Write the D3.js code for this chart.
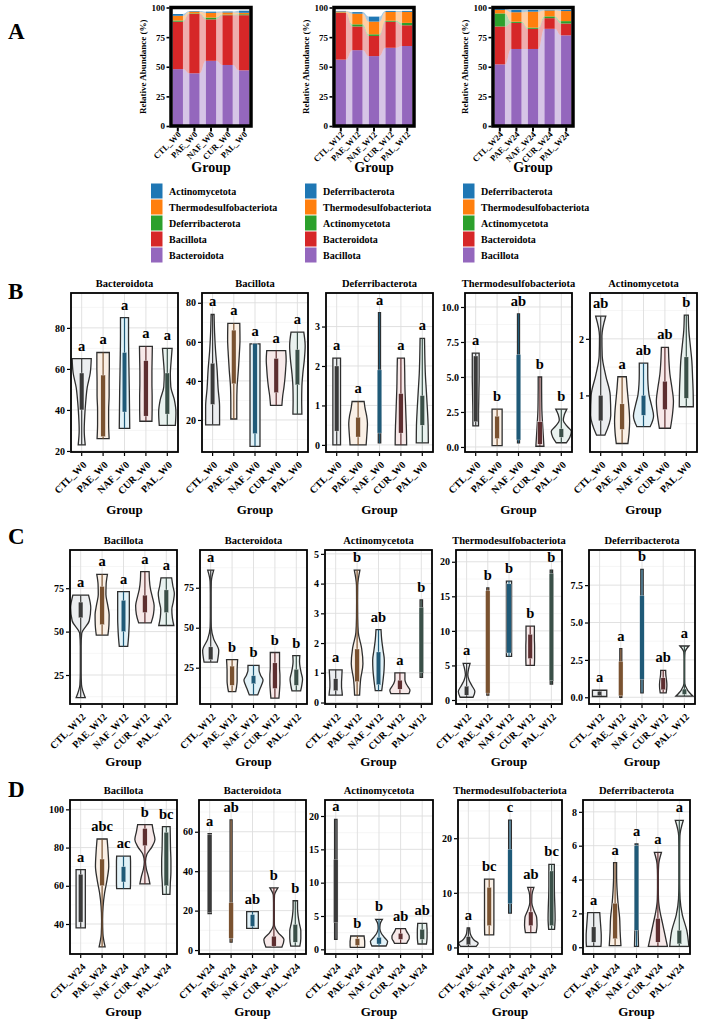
<!DOCTYPE html>
<html>
<head>
<meta charset="utf-8">
<script src="https://cdn.jsdelivr.net/npm/d3@7"></script>
<style>
body{margin:0;background:#fff}
text{font-family:"Liberation Serif","Times New Roman",serif;font-weight:bold;fill:#000}
</style>
</head>
<body>
<svg id="fig" width="703" height="1023"></svg>
<script>
// ---- panel A : stacked relative abundance ----
var groupsW0 = ["CTL_W0","PAE_W0","NAF_W0","CUR_W0","PAL_W0"];
var groupsW12 = ["CTL_W12","PAE_W12","NAF_W12","CUR_W12","PAL_W12"];
var groupsW24 = ["CTL_W24","PAE_W24","NAF_W24","CUR_W24","PAL_W24"];
// stack order bottom -> top
var phylaW0 = ["Bacteroidota","Bacillota","Deferribacterota","Thermodesulfobacteriota","Actinomycetota"];
var phylaW12 = ["Bacillota","Bacteroidota","Actinomycetota","Thermodesulfobacteriota","Deferribacterota"];
var phylaW24 = ["Bacillota","Bacteroidota","Actinomycetota","Thermodesulfobacteriota","Deferribacterota"];
var abundW0 = [[48,40,1,4,1.5],[44.5,50,0.5,1.5,0.5],[55,35,1.5,4,1],[51.5,42,0.5,1.8,0.8],[47,46.5,0.8,1.2,1.8]];
var abundW12 = [[56,39.5,0.3,0.8,0.5],[64,20,1.8,9,1.3],[59,17,1.4,10.7,4.2],[66,22,0.8,7.5,0.8],[67.5,17.5,2,9.3,0.8]];
var abundW24 = [[52,32,11,3,1],[65,22,1,8,2],[65,17,1,13.5,1.5],[82,9,1.5,5,0.5],[76.5,10,2,8.5,1]];
var abundTicks = [0,25,50,75,100];
var stackColors = ["#9467bd","#d62728","#2ca02c","#ff7f0e","#1f77b4"];

// ---- violins: [min, q1, q3, max, letter, widths from min to max] ----
var bTitles = ["Bacteroidota","Bacillota","Deferribacterota","Thermodesulfobacteriota","Actinomycetota"];
var bBacteroidota = [
 [23,40,58,65,"a",[0.35,0.25,0.3,0.4,0.55,0.85,0.95]],
 [26,27,57,68,"a",[0.6,0.55,0.55,0.6,0.6,0.62,0.62]],
 [31,39,68,85,"a",[0.52,0.5,0.48,0.45,0.42,0.4,0.4]],
 [34.5,37,64,71,"a",[0.6,0.62,0.62,0.6,0.6,0.62,0.64]],
 [32.5,38,58,70,"a",[0.8,0.86,0.7,0.35,0.3,0.38,0.48]]];
var bBacillota = [
 [17.5,28,49,74,"a",[0.7,0.7,0.55,0.45,0.3,0.2,0.15]],
 [20.5,38.5,66,69.5,"a",[0.3,0.3,0.33,0.45,0.55,0.62,0.6]],
 [6.5,13,59,59,"a",[0.5,0.5,0.5,0.5,0.5,0.5,0.5]],
 [27.5,34,51.5,55.5,"a",[0.57,0.65,0.78,0.88,0.95,1.0,0.95]],
 [23,38,56,65,"a",[0.45,0.43,0.45,0.55,0.7,0.78,0.64]]];
var bDeferribacterota = [
 [0,0.35,2.0,2.2,"a",[0.38,0.38,0.38,0.38,0.38,0.38,0.38]],
 [0,0.2,0.7,1.1,"a",[0.8,0.85,0.9,0.93,0.85,0.7,0.6]],
 [0.05,0.3,1.9,3.35,"a",[0.12,0.12,0.1,0.1,0.1,0.1,0.1]],
 [0,0.3,1.3,2.2,"a",[0.57,0.55,0.5,0.45,0.4,0.38,0.35]],
 [0.05,0.5,1.25,2.7,"a",[0.6,0.58,0.5,0.4,0.3,0.25,0.22]]];
var bThermo = [
 [1.5,1.8,6.5,6.7,"a",[0.28,0.28,0.3,0.32,0.34,0.34,0.34]],
 [0.1,0.6,2.2,2.7,"b",[0.5,0.5,0.5,0.5,0.5,0.5,0.5]],
 [0.3,0.5,6.6,9.5,"ab",[0.1,0.1,0.1,0.1,0.1,0.1,0.1]],
 [0.05,0.2,1.8,5.0,"b",[0.4,0.33,0.26,0.2,0.18,0.17,0.17]],
 [0.3,0.7,1.3,2.7,"b",[0.5,0.85,1.0,0.55,0.2,0.3,0.55]]];
var bActino = [
 [0.3,0.55,1.0,2.4,"ab",[0.42,1.0,0.95,0.5,0.15,0.12,0.5]],
 [0.15,0.4,0.85,1.33,"a",[0.58,0.7,0.75,0.7,0.6,0.5,0.42]],
 [0.45,0.65,1.0,1.57,"ab",[0.67,1.0,0.8,0.55,0.45,0.42,0.42]],
 [0.42,0.75,1.25,1.85,"ab",[0.55,0.75,0.85,0.7,0.5,0.4,0.35]],
 [0.8,0.95,1.68,2.42,"b",[0.7,0.68,0.62,0.55,0.4,0.25,0.2]]];
var bTicks = [[20,40,60,80],[20,40,60,80],[0,1,2,3],[0,2.5,5,7.5,10],[1,2]];
var bDomains = [[19.5,97],[3.6,85],[-0.18,3.85],[-0.36,11],[0,2.81]];

var cTitles = ["Bacillota","Bacteroidota","Actinomycetota","Thermodesulfobacteriota","Deferribacterota"];
var cBacillota = [
 [12,58,67,71,"a",[0.45,0.08,0.04,0.04,0.04,0.1,0.85,1.0,0.78]],
 [48,54,76,83,"a",[0.58,0.68,0.7,0.55,0.38,0.4,0.53]],
 [41.5,50,68,73,"a",[0.42,0.5,0.55,0.58,0.58,0.58,0.58]],
 [55,61,71,84.5,"a",[0.62,0.85,0.92,0.75,0.55,0.45,0.42]],
 [53.5,61,74,81,"a",[0.75,0.6,0.55,0.7,0.8,0.65,0.53]]];
var cBacteroidota = [
 [28.5,30,38,86,"a",[0.66,0.8,0.3,0.06,0.04,0.04,0.04,0.06,0.3]],
 [10,14,26,30,"b",[0.36,0.45,0.5,0.5,0.5,0.52,0.55]],
 [8,15,20,26.5,"b",[0.42,0.6,0.8,0.95,0.7,0.55,0.55]],
 [6,12,28,34.5,"b",[0.4,0.46,0.5,0.5,0.46,0.46,0.46]],
 [10.5,14,24,32.5,"b",[0.43,0.55,0.62,0.5,0.38,0.32,0.35]]];
var cActino = [
 [0.25,0.4,0.8,1.1,"a",[0.66,0.62,0.58,0.58,0.6,0.62,0.64]],
 [0.25,0.7,1.8,4.45,"b",[0.25,0.35,0.58,0.45,0.12,0.06,0.05,0.06,0.28]],
 [0.4,0.6,1.7,2.45,"ab",[0.32,0.45,0.55,0.58,0.45,0.32,0.25]],
 [0.3,0.45,0.75,1.0,"a",[0.9,1.0,0.8,0.6,0.5,0.5,0.5]],
 [0.85,1.0,3.2,3.45,"b",[0.12,0.12,0.12,0.12,0.12,0.12,0.12]]];
var cThermo = [
 [0.4,0.7,2.0,5.3,"a",[0.65,0.83,0.55,0.25,0.12,0.2,0.35]],
 [0.7,1.0,15.8,16.2,"b",[0.1,0.1,0.1,0.1,0.1,0.1,0.1]],
 [6.3,6.8,16.8,17.2,"b",[0.26,0.26,0.26,0.26,0.26,0.26,0.26]],
 [5,6,9.5,10.7,"b",[0.42,0.44,0.44,0.44,0.42,0.42,0.42]],
 [2.3,2.8,18.3,18.8,"b",[0.12,0.12,0.12,0.12,0.12,0.12,0.12]]];
var cDeferri = [
 [0.05,0.1,0.4,0.47,"a",[0.72,0.72,0.72,0.72,0.72,0.72,0.72]],
 [0,0.1,2.4,3.25,"a",[0.1,0.1,0.1,0.1,0.1,0.1,0.1]],
 [0.3,1.2,6.8,8.55,"b",[0.12,0.12,0.12,0.12,0.12,0.12,0.12]],
 [0.3,0.5,1.3,1.8,"ab",[0.3,0.35,0.37,0.35,0.3,0.26,0.25]],
 [0.08,0.2,0.55,3.43,"a",[0.85,0.3,0.04,0.03,0.03,0.03,0.03,0.06,0.45]]];
var cTicks = [[25,50,75],[25,50,75],[0,1,2,3,4,5],[0,5,10,15,20],[0,2.5,5,7.5]];
var cDomains = [[8.3,97],[2.3,98.6],[-0.05,5.13],[-0.58,21.7],[-0.45,9.85]];

var dTitles = ["Bacillota","Bacteroidota","Actinomycetota","Thermodesulfobacteriota","Deferribacterota"];
var dBacillota = [
 [38,41,66,68.5,"a",[0.46,0.46,0.46,0.46,0.46,0.46,0.46]],
 [28,60,74,84.5,"abc",[0.3,0.08,0.05,0.1,0.25,0.5,0.66,0.6,0.5]],
 [58.5,62,70,75.5,"ac",[0.68,0.7,0.7,0.7,0.7,0.7,0.68]],
 [61,81,90,92,"b",[0.5,0.35,0.15,0.06,0.2,0.7,1.0,0.85,0.72]],
 [55.5,60,88,91,"bc",[0.36,0.4,0.46,0.46,0.42,0.4,0.38]]];
var dBacteroidota = [
 [18.5,19,58.5,59,"a",[0.16,0.16,0.16,0.16,0.16,0.16,0.16]],
 [4,6,24,66,"ab",[0.1,0.1,0.1,0.1,0.1,0.1,0.1]],
 [11,12,18,19.5,"ab",[0.58,0.58,0.58,0.58,0.58,0.58,0.58]],
 [1.5,2,7,31.5,"b",[0.8,1.0,0.4,0.05,0.04,0.04,0.04,0.06,0.4]],
 [2,4,13,25,"b",[0.45,0.55,0.55,0.4,0.28,0.22,0.22]]];
var dActino = [
 [1.5,4,13.5,19.5,"a",[0.12,0.12,0.12,0.12,0.12,0.12,0.12]],
 [0.3,0.6,1.6,2.0,"b",[0.7,0.72,0.72,0.72,0.7,0.68,0.66]],
 [0.5,0.8,1.8,4.5,"b",[0.7,0.85,0.5,0.2,0.08,0.12,0.33]],
 [0.9,1.5,2.4,3.1,"ab",[0.6,0.72,0.85,0.85,0.72,0.58,0.48]],
 [0.8,1.5,3.0,3.9,"ab",[0.42,0.46,0.48,0.48,0.48,0.46,0.44]]];
var dThermo = [
 [0.2,0.5,2.0,3.6,"a",[0.8,1.0,0.6,0.35,0.2,0.15,0.12]],
 [2.3,4,11,12.5,"bc",[0.46,0.48,0.48,0.48,0.48,0.48,0.48]],
 [6.3,8,18,23.3,"c",[0.14,0.14,0.14,0.14,0.14,0.14,0.14]],
 [2.7,4,6.5,11,"ab",[0.55,0.64,0.6,0.3,0.1,0.12,0.32]],
 [3.3,4,14,15.2,"bc",[0.3,0.36,0.34,0.3,0.28,0.28,0.28]]];
var dDeferri = [
 [0.05,0.3,1.2,2.05,"a",[0.72,0.75,0.75,0.72,0.68,0.64,0.6]],
 [0.1,0.5,2.6,5.0,"a",[0.58,0.5,0.45,0.3,0.2,0.15,0.15]],
 [0.05,1.0,6.0,6.1,"a",[0.2,0.16,0.14,0.14,0.14,0.14,0.14]],
 [0.05,0.3,1.7,5.6,"a",[0.95,0.7,0.45,0.2,0.06,0.04,0.04,0.08,0.35]],
 [0.05,0.2,1.0,7.5,"a",[0.95,0.75,0.3,0.08,0.04,0.04,0.04,0.06,0.4]]];
var dTicks = [[40,60,80,100],[0,20,40,60],[0,5,10,15,20],[0,10,20],[0,2,4,6,8]];
var dDomains = [[24.3,104.9],[-2,76.1],[-0.7,22.4],[-1.2,27],[-0.4,8.7]];

var violinFill = ["#eceef0","#faf0e6","#e2f2f8","#f7e9e9","#e9f2ef"];
var boxFill = ["#3a3a3a","#7a5230","#1f5a78","#5e2e30","#3a5048"];

var svg = d3.select("#fig");

// ---------- panel A ----------
function drawStack(groups, phyla, abund, l, r, legendX){
	var top = 7.5, bottom = 126;
	var table = groups.map(function(gn,i){
		var o = {group: gn};
		phyla.forEach(function(p,k){ o[p] = abund[i][k]; });
		return o;
	});
	var series = d3.stack().keys(phyla)(table);
	var x = d3.scaleBand().domain(groups).range([l,r]).paddingInner(0.38).paddingOuter(0.1);
	var y = d3.scaleLinear().domain([0,100]).range([bottom,top]);
	var g = svg.append("g");

	// flows between bars
	series.forEach(function(s,k){
		for (var i=0;i<groups.length-1;i++){
			var a = s[i], b = s[i+1];
			var xa = x(groups[i]) + x.bandwidth(), xb = x(groups[i+1]), xm = (xa+xb)/2;
			var d = "M"+xa+","+y(a[1])+"C"+xm+","+y(a[1])+" "+xm+","+y(b[1])+" "+xb+","+y(b[1])
				+"L"+xb+","+y(b[0])+"C"+xm+","+y(b[0])+" "+xm+","+y(a[0])+" "+xa+","+y(a[0])+"Z";
			g.append("path").attr("d",d).attr("fill",stackColors[k]).attr("fill-opacity",0.38);
		}
	});
	// bars
	series.forEach(function(s,k){
		g.selectAll(null).data(s).enter().append("rect")
			.attr("x",function(d){ return x(d.data.group); })
			.attr("width",x.bandwidth())
			.attr("y",function(d){ return y(d[1]); })
			.attr("height",function(d){ return y(d[0]) - y(d[1]); })
			.attr("fill",stackColors[k]);
	});
	g.append("rect").attr("x",l).attr("y",top).attr("width",r-l).attr("height",bottom-top)
		.attr("fill","none").attr("stroke","#000").attr("stroke-width",3.5);

	var ya = g.append("g").attr("transform","translate("+(l-1.5)+",0)")
		.call(d3.axisLeft(y).tickValues(abundTicks).tickSize(3).tickPadding(1.5));
	ya.select(".domain").remove();
	ya.selectAll("line").attr("stroke","#000").attr("stroke-width",1.6);
	ya.selectAll("text").style("font-size","9px");

	var xa = g.append("g").attr("transform","translate(0,"+(bottom+1.5)+")")
		.call(d3.axisBottom(x).tickSize(4).tickFormat(""));
	xa.select(".domain").remove();
	xa.selectAll("line").attr("stroke","#000").attr("stroke-width",2);
	groups.forEach(function(gn){
		g.append("text").attr("transform","translate("+(x(gn)+x.bandwidth()/2+1.5)+","+(bottom+7)+") rotate(-45)")
			.attr("text-anchor","end").attr("dy","0.35em").style("font-size","8.5px").text(gn);
	});
	g.append("text").attr("transform","translate("+(l-28)+","+((top+bottom)/2)+") rotate(-90)")
		.attr("text-anchor","middle").attr("dy","0.35em").style("font-size","9px").text("Relative Abundance (%)");
	g.append("text").attr("x",(l+r)/2).attr("y",167).attr("dy","0.35em").attr("text-anchor","middle")
		.style("font-size","14px").text("Group");

	// legend, top of the stack first
	for (var k=phyla.length-1;k>=0;k--){
		var j = phyla.length-1-k;
		g.append("rect").attr("x",legendX).attr("y",183.5+j*16).attr("width",11.5).attr("height",15)
			.attr("fill",stackColors[k]);
		g.append("text").attr("x",legendX+18).attr("y",191+j*16).attr("dy","0.35em")
			.style("font-size","10px").text(phyla[k]);
	}
}

drawStack(groupsW0, phylaW0, abundW0, 171, 251, 151);
drawStack(groupsW12, phylaW12, abundW12, 334, 414, 305);
drawStack(groupsW24, phylaW24, abundW24, 493, 573, 463);

// ---------- violin panels ----------
function drawViolin(p){
	var x = d3.scaleBand().domain(p.groups).range([p.left,p.right]);
	var y = d3.scaleLinear().domain(p.domain).range([p.bottom,p.top]);
	var g = svg.append("g");
	var step = p.ticks[1]-p.ticks[0];
	var minor = d3.range(p.ticks[0]-2.5*step, p.domain[1], step)
		.filter(function(v){ return v > p.domain[0] && v < p.domain[1]; });

	minor.forEach(function(v){
		g.append("line").attr("x1",p.left).attr("x2",p.right).attr("y1",y(v)).attr("y2",y(v))
			.attr("stroke","#f0f0f0").attr("stroke-width",0.6);
	});
	p.ticks.forEach(function(v){
		g.append("line").attr("x1",p.left).attr("x2",p.right).attr("y1",y(v)).attr("y2",y(v))
			.attr("stroke","#dedede").attr("stroke-width",0.9);
	});
	p.groups.forEach(function(gn){
		var cx = x(gn)+x.bandwidth()/2;
		g.append("line").attr("x1",cx).attr("x2",cx).attr("y1",p.top).attr("y2",p.bottom)
			.attr("stroke","#dedede").attr("stroke-width",0.9);
	});

	var hw = x.bandwidth()*0.47;
	var bw = x.bandwidth()*0.21;
	p.rows.forEach(function(r,i){
		var mn=r[0], q1=r[1], q3=r[2], mx=r[3], w=r[5];
		var cx = x(p.groups[i]) + x.bandwidth()/2;
		var pts = w.map(function(wi,k){ return {v: mn + (mx-mn)*k/(w.length-1), w: wi}; }).reverse();
		var area = d3.area()
			.y(function(d){ return y(d.v); })
			.x0(function(d){ return cx - hw*d.w; })
			.x1(function(d){ return cx + hw*d.w; })
			.curve(d3.curveMonotoneY);
		g.append("path").attr("d",area(pts)).attr("fill",violinFill[i])
			.attr("stroke","#2e2e2e").attr("stroke-width",1.3);
		g.append("line").attr("x1",cx).attr("x2",cx).attr("y1",y(mn)).attr("y2",y(mx))
			.attr("stroke",boxFill[i]).attr("stroke-width",1.2);
		g.append("rect").attr("x",cx-bw/2).attr("width",bw).attr("y",y(q3)).attr("height",y(q1)-y(q3))
			.attr("fill",boxFill[i]).attr("stroke","#fff").attr("stroke-width",0.3);
	});

	g.append("rect").attr("x",p.left).attr("y",p.top).attr("width",p.right-p.left).attr("height",p.bottom-p.top)
		.attr("fill","none").attr("stroke","#000").attr("stroke-width",1.8);

	var ya = g.append("g").attr("transform","translate("+(p.left-1)+",0)")
		.call(d3.axisLeft(y).tickValues(p.ticks).tickSize(3).tickPadding(2).tickFormat(p.fmt));
	ya.select(".domain").remove();
	ya.selectAll("line").attr("stroke","#000").attr("stroke-width",1.2);
	ya.selectAll("text").style("font-size","10px");

	var xa = g.append("g").attr("transform","translate(0,"+(p.bottom+1)+")")
		.call(d3.axisBottom(x).tickSize(3).tickFormat(""));
	xa.select(".domain").remove();
	xa.selectAll("line").attr("stroke","#000").attr("stroke-width",1.2);
	p.groups.forEach(function(gn){
		g.append("text").attr("transform","translate("+(x(gn)+x.bandwidth()/2+3)+","+(p.bottom+11)+") rotate(-45)")
			.attr("text-anchor","end").attr("dy","0.35em").style("font-size","10px").text(gn);
	});

	p.rows.forEach(function(r,i){
		var cx = x(p.groups[i]) + x.bandwidth()/2;
		g.append("text").attr("x",cx).attr("y",y(r[3])-8).attr("text-anchor","middle")
			.style("font-size","14.5px").text(r[4]);
	});

	g.append("text").attr("x",(p.left+p.right)/2).attr("y",p.top-10).attr("dy","0.35em")
		.attr("text-anchor","middle").style("font-size","10.5px").text(p.title);
	g.append("text").attr("x",(p.left+p.right)/2).attr("y",p.bottom+57).attr("dy","0.35em")
		.attr("text-anchor","middle").style("font-size","13px").text("Group");
}

var rowLayouts = [
	{top:293, bottom:452, frames:[[71,178],[202,308],[326,433],[465,572],[590,697]]},
	{top:550, bottom:704, frames:[[70,177],[200,307],[325,432],[456,562],[589,695]]},
	{top:800, bottom:954, frames:[[70,177],[199,306],[325,433],[458,562],[583,690]]}
];
var rowsData = [
	{groups:groupsW0, titles:bTitles, data:[bBacteroidota,bBacillota,bDeferribacterota,bThermo,bActino], ticks:bTicks, domains:bDomains},
	{groups:groupsW12, titles:cTitles, data:[cBacillota,cBacteroidota,cActino,cThermo,cDeferri], ticks:cTicks, domains:cDomains},
	{groups:groupsW24, titles:dTitles, data:[dBacillota,dBacteroidota,dActino,dThermo,dDeferri], ticks:dTicks, domains:dDomains}
];
rowsData.forEach(function(rd,ri){
	var lay = rowLayouts[ri];
	rd.data.forEach(function(rows,pi){
		var t = rd.ticks[pi];
		var dec = t.some(function(v){ return v % 1 !== 0; });
		drawViolin({
			groups: rd.groups, title: rd.titles[pi], rows: rows, ticks: t, domain: rd.domains[pi],
			fmt: dec ? d3.format(".1f") : d3.format("d"),
			left: lay.frames[pi][0], right: lay.frames[pi][1], top: lay.top, bottom: lay.bottom
		});
	});
});

// panel letters
[["A",39],["B",299],["C",544],["D",797]].forEach(function(d){
	svg.append("text").attr("x",8).attr("y",d[1]).style("font-size","23px").text(d[0]);
});
</script>
</body>
</html>
